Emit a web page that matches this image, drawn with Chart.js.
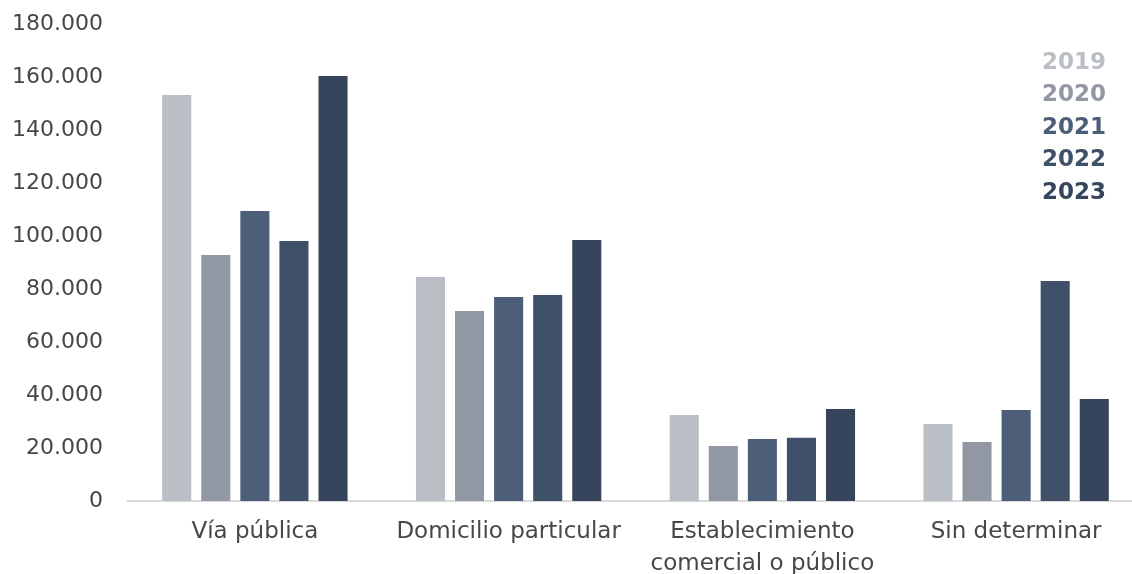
<!DOCTYPE html>
<html>
<head>
<meta charset="utf-8">
<script src="https://cdn.jsdelivr.net/npm/chart.js@4"></script>
<style>
  html,body{margin:0;padding:0;background:#fff;overflow:hidden;}
  #wrap{width:1143px;height:574px;}
</style>
</head>
<body>
<div id="wrap"><canvas id="chart" width="1143" height="574"></canvas></div>
<script>
'use strict';
const categories=[['Vía pública'],['Domicilio particular'],['Establecimiento','comercial o público'],['Sin determinar']];
const years=['2019','2020','2021','2022','2023'];
const colors=['#BABEC5','#9198A4','#4D5E78','#405068','#36455B'];
const values2019=[153600,84900,32800,29400];
const values2020=[93200,72100,21100,22600];
const values2021=[109800,77400,23800,34700];
const values2022=[98500,78100,24200,83400];
const values2023=[160800,98900,35100,38900];
const yTicks=[0,20000,40000,60000,80000,100000,120000,140000,160000,180000];

const series=[values2019,values2020,values2021,values2022,values2023];
const font='"DejaVu Sans", sans-serif';

// year labels stacked at the top right, coloured like the bars
const yearLegend={
  id:'yearLegend',
  afterDraw(chart){
    const ctx=chart.ctx;
    ctx.save();
    ctx.font='bold 23px '+font;
    ctx.textBaseline='middle';
    ctx.textAlign='left';
    chart.data.datasets.forEach((set,index)=>{
      ctx.fillStyle=set.backgroundColor;
      ctx.fillText(set.label,1042,63+index*32.5);
    });
    ctx.restore();
  }
};

new Chart(document.getElementById('chart'),{
  type:'bar',
  data:{
    labels:categories,
    datasets:years.map((year,index)=>({
      label:year,
      data:series[index],
      backgroundColor:colors[index],
      borderColor:'rgba(255,255,255,0.35)',
      borderWidth:1,
      barPercentage:0.795,
      categoryPercentage:0.77
    }))
  },
  options:{
    responsive:false,animation:false,
    layout:{padding:{top:24,right:0,left:0,bottom:0}},
    plugins:{legend:{display:false},tooltip:{enabled:false}},
    scales:{
      x:{
        grid:{display:false,drawTicks:false},
        border:{display:true,color:'#D9D9D9',width:2},
        ticks:{color:'#474747',font:{family:font,size:23,lineHeight:1.35},padding:16,maxRotation:0},
        afterFit:scale=>{scale.height=73;}
      },
      y:{
        min:0,max:180000,
        afterBuildTicks:scale=>{scale.ticks=yTicks.map(value=>({value}));},
        grid:{display:false,drawTicks:false},
        border:{display:false},
        ticks:{color:'#474747',font:{family:font,size:22},padding:25,
          callback:value=>value.toLocaleString('de-DE')},
        afterFit:scale=>{scale.width=128;scale.paddingTop=0;scale.paddingBottom=0;}
      }
    }
  },
  plugins:[yearLegend]
});
</script>
</body>
</html>
